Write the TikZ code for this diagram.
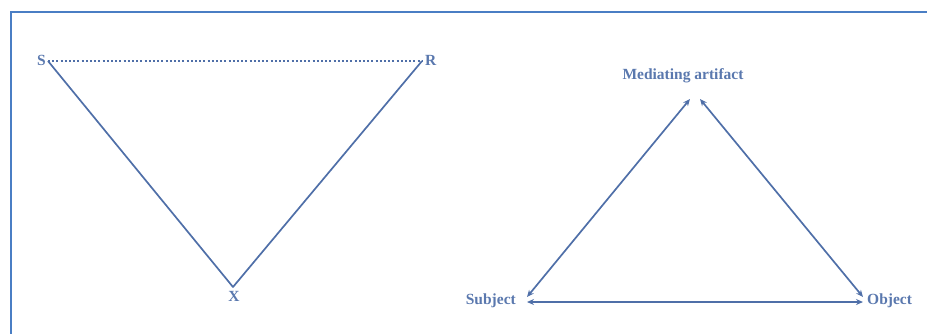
\documentclass[tikz,border=0pt]{standalone}
\usepackage{fontspec}
\setmainfont{Liberation Serif}
\usetikzlibrary{arrows.meta}
\definecolor{frm}{HTML}{4A7EC4}
\definecolor{ln}{HTML}{4F6FA8}
\definecolor{tx}{HTML}{5A78AE}
\tikzset{
  lbl/.style={text=tx, font=\bfseries\fontsize{15.5}{18}\selectfont, inner sep=1pt},
  edge/.style={draw=ln, line width=1.7pt},
  dbl/.style={edge, {Stealth[length=7pt,width=6pt]}-{Stealth[length=7pt,width=6pt]}}
}
\begin{document}
\begin{tikzpicture}[x=1pt,y=-1pt]
\useasboundingbox (0,0) rectangle (927,333);
\draw[frm, line width=1.5pt] (11,340) -- (11,12) -- (935,12);
% left triangle
\coordinate (s) at (48,61);
\coordinate (r) at (422,61);
\coordinate (x) at (233,287);
\node[lbl, anchor=east] (sl) at (47,60) {S};
\node[lbl, anchor=west] (rl) at (424,60) {R};
\node[lbl, anchor=north] (xl) at (234,290) {X};
\draw[ln, line width=2pt, dash pattern=on 2pt off 2.2pt] (s) -- (r);
\draw[edge, line join=round] (s) -- (x) -- (r);
% right triangle
\node[lbl] (ma) at (683,76) {Mediating artifact};
\node[lbl, anchor=east] (sub) at (517,301) {Subject};
\node[lbl, anchor=west] (obj) at (866,301) {Object};
\coordinate (a1) at (690,99);
\coordinate (a2) at (700,99);
\coordinate (s1) at (527,297);
\coordinate (s2) at (527,302);
\coordinate (o1) at (863,297);
\coordinate (o2) at (863,302);
\draw[dbl] (s1) -- (a1);
\draw[dbl] (a2) -- (o1);
\draw[dbl] (s2) -- (o2);
\end{tikzpicture}
\end{document}
